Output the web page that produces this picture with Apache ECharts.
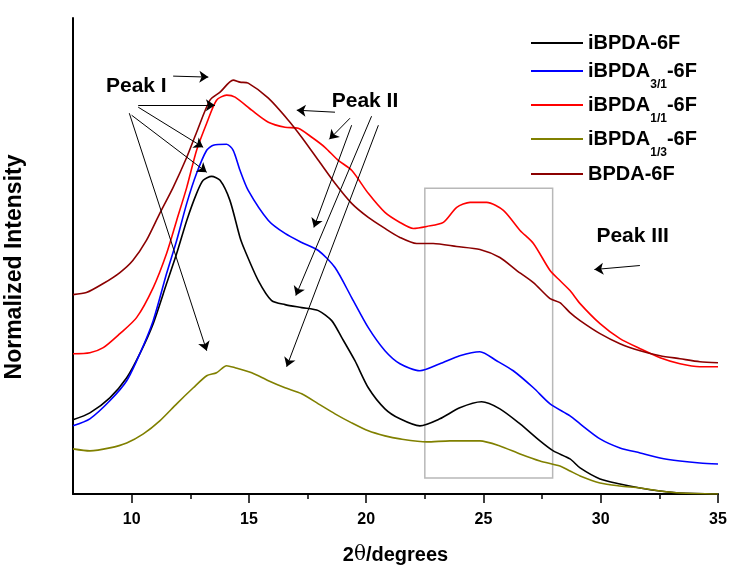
<!DOCTYPE html>
<html>
<head>
<meta charset="utf-8">
<script src="https://cdn.jsdelivr.net/npm/echarts@6/dist/echarts.min.js"></script>
<style>
  html, body { margin: 0; padding: 0; background: #ffffff; }
  #chart { width: 729px; height: 567px; }
</style>
</head>
<body>
<div id="chart"></div>
<script>
// ---- series names (legend text: base + subscript + suffix) ----
const seriesNames = ['iBPDA-6F', 'iBPDA3/1-6F', 'iBPDA1/1-6F', 'iBPDA1/3-6F', 'BPDA-6F'];
const legendBase = ['iBPDA', 'iBPDA', 'iBPDA', 'iBPDA', 'BPDA'];
const legendSub = ['', '3/1', '1/1', '1/3', ''];

// ---- WAXD patterns: [2θ (degrees), normalized intensity (a.u.)] ----
const iBPDA_6F = [
  [7.5, 74], [8.22, 81], [9.07, 96], [9.79, 116], [10.35, 140], [10.92, 170],
  [11.49, 210], [11.92, 240], [12.35, 273], [12.77, 300], [13.05, 313], [13.41, 317],
  [13.77, 313], [14.19, 293], [14.62, 256], [14.83, 243], [15.4, 213], [15.97, 193],
  [16.54, 189], [17.25, 186], [17.96, 183], [18.53, 173], [18.96, 156], [19.52, 133],
  [20.09, 106], [20.8, 85], [21.44, 75], [22.29, 68], [23.14, 75], [23.99, 86],
  [24.92, 92], [25.7, 85], [26.56, 70], [27.41, 53], [27.98, 43], [28.69, 35],
  [29.12, 26], [29.97, 15], [30.82, 10], [31.68, 6], [32.53, 3], [33.38, 1], [35, 0]
];
const iBPDA31_6F = [
  [7.5, 68], [8.22, 75], [9.07, 93], [9.79, 113], [10.35, 140], [10.92, 173],
  [11.49, 220], [11.92, 253], [12.35, 290], [12.77, 320], [13.2, 343], [13.48, 348],
  [14.05, 349], [14.33, 343], [14.62, 323], [14.97, 303], [15.83, 273], [16.54, 260],
  [17.25, 251], [17.96, 243], [18.67, 226], [19.38, 196], [20.09, 166], [20.8, 143],
  [21.44, 130], [22.29, 123], [23.14, 130], [23.99, 138], [24.85, 142], [25.56, 133],
  [26.27, 123], [27.13, 106], [27.84, 90], [28.69, 78], [29.12, 70], [29.97, 55],
  [30.82, 46], [31.68, 41], [32.53, 36], [33.38, 33], [34.23, 31], [35, 30]
];
const iBPDA11_6F = [
  [7.5, 140], [8.22, 141], [8.79, 146], [9.5, 160], [10.21, 176], [10.92, 206],
  [11.49, 240], [11.92, 273], [12.35, 306], [12.77, 343], [13.2, 370], [13.62, 393],
  [14.05, 398], [14.41, 396], [15.12, 383], [15.83, 371], [16.54, 366], [17.1, 365],
  [17.68, 356], [18.24, 346], [18.81, 333], [19.38, 323], [20.09, 300], [20.8, 281],
  [21.44, 271], [22.01, 265], [22.58, 267], [23.29, 271], [23.86, 286], [24.43, 291],
  [25.14, 291], [25.85, 283], [26.56, 263], [27.13, 250], [27.84, 223], [28.26, 213],
  [28.69, 203], [29.12, 190], [29.97, 170], [30.82, 155], [31.68, 145], [32.53, 136],
  [33.38, 130], [34.23, 127], [35, 127]
];
const iBPDA13_6F = [
  [7.5, 45], [8.22, 43], [9.07, 46], [9.79, 51], [10.5, 60], [11.2, 73],
  [11.92, 90], [12.63, 106], [13.2, 118], [13.62, 121], [14.05, 128], [14.41, 126],
  [15.12, 121], [15.83, 113], [16.54, 106], [17.25, 100], [17.96, 90], [18.67, 80],
  [19.38, 71], [20.09, 63], [20.8, 58], [21.44, 55], [22.58, 52], [23.57, 53],
  [24.85, 53], [25.7, 48], [26.56, 40], [27.41, 33], [28.26, 28], [28.69, 23],
  [29.12, 18], [29.97, 11], [30.82, 8], [31.68, 6], [32.53, 3], [33.38, 1], [35, 0]
];
const BPDA_6F = [
  [7.5, 199], [8.07, 201], [8.79, 210], [9.5, 221], [10.05, 233], [10.63, 253],
  [11.2, 280], [11.77, 306], [12.35, 336], [12.77, 361], [13.34, 393], [13.77, 401],
  [14.33, 413], [14.62, 411], [14.97, 410], [15.83, 395], [16.68, 373], [17.25, 356],
  [17.96, 333], [18.67, 310], [19.38, 290], [20.09, 276], [20.8, 265], [21.44, 256],
  [22.15, 250], [22.86, 250], [23.86, 247], [24.85, 244], [25.7, 236], [26.42, 223],
  [27.13, 211], [27.84, 195], [28.26, 191], [28.69, 181], [29.12, 173], [29.97, 160],
  [30.82, 150], [31.68, 143], [32.53, 138], [33.38, 135], [34.23, 132], [35, 131]
];
const seriesData = [iBPDA_6F, iBPDA31_6F, iBPDA11_6F, iBPDA13_6F, BPDA_6F];
const seriesColors = ['#000000', '#0000ff', '#ff0000', '#808000', '#8b0000'];

// ---- axis ticks ----
const majorTicks = [10, 15, 20, 25, 30, 35];
const minorTicks = [12.5, 17.5, 22.5, 27.5, 32.5];

// ---- peak annotations (data coordinates) ----
const peakLabels = ['Peak I', 'Peak II', 'Peak III'];
const peakLabelAt = [[10.2, 407], [19.95, 392], [31.36, 257]];
const peakArrows = [
  // Peak I
  [[11.77, 417], [13.27, 416]],
  [[10.28, 388], [13.55, 388]],
  [[10.28, 386], [13.05, 346]],
  [[10.0, 378], [13.2, 321]],
  [[9.9, 380], [13.2, 143]],
  // Peak II
  [[18.67, 381], [17.04, 383]],
  [[19.31, 375], [18.43, 354]],
  [[19.38, 368], [17.77, 266]],
  [[20.23, 377], [17.0, 198]],
  [[20.52, 368], [16.61, 127]],
  // Peak III
  [[31.67, 228], [29.73, 224]]
];
const peakIIIBox = [[22.5, 16], [27.95, 305]];

const FONT = '"Liberation Sans", Arial, sans-serif';

const lineSeries = seriesNames.map((name, i) => ({
  name: name,
  type: 'line',
  data: seriesData[i],
  symbol: 'none',
  smooth: 0.25,
  lineStyle: { color: seriesColors[i], width: 1.6 },
  itemStyle: { color: seriesColors[i] },
  emphasis: { disabled: true },
  z: 3
}));

const annotationSeries = {
  name: 'annotations',
  type: 'scatter',
  data: peakLabels.map((t, i) => ({ name: t, value: peakLabelAt[i] })),
  symbolSize: 0,
  silent: true,
  z: 5,
  itemStyle: { opacity: 1 },
  label: {
    show: true,
    position: 'inside',
    formatter: '{b}',
    color: '#000',
    fontFamily: FONT,
    fontWeight: 'bold',
    fontSize: 21
  },
  markLine: {
    silent: true,
    animation: false,
    symbol: ['none', 'arrow'],
    symbolSize: 9,
    label: { show: false },
    lineStyle: { color: '#000', width: 1, type: 'solid', opacity: 1 },
    emphasis: { disabled: true },
    data: peakArrows.map(([a, b]) => [{ coord: a }, { coord: b }])
  },
  markArea: {
    silent: true,
    label: { show: false },
    itemStyle: { color: 'rgba(0,0,0,0)', borderColor: '#b8b8b8', borderWidth: 1.5 },
    emphasis: { disabled: true },
    data: [[{ coord: peakIIIBox[0] }, { coord: peakIIIBox[1] }]]
  }
};

// one legend block per series so every row can sit at its own height
const legendRowCenters = [42, 70, 104, 138, 173];
const legendRich = {
  m: { fontFamily: FONT, fontWeight: 'bold', fontSize: 20, color: '#000', lineHeight: 40 },
  s: { fontFamily: FONT, fontWeight: 'bold', fontSize: 12, color: '#000', verticalAlign: 'bottom' }
};
const legends = seriesNames.map((name, i) => ({
  data: [{ name: name, icon: 'rect' }],
  orient: 'vertical',
  left: 531,
  top: legendRowCenters[i] - 9,
  itemWidth: 52,
  itemHeight: 2,
  selectedMode: false,
  padding: 0,
  formatter: function () {
    if (!legendSub[i]) return '{m|' + name + '}';
    return '{m|' + legendBase[i] + '}{s|' + legendSub[i] + '}{m|-6F}';
  },
  textStyle: { color: '#000', fontFamily: FONT, fontWeight: 'bold', fontSize: 20, rich: legendRich }
}));

const chart = echarts.init(document.getElementById('chart'), null, { renderer: 'canvas' });
chart.setOption({
  animation: false,
  backgroundColor: '#ffffff',
  grid: { left: 73, right: 11, top: 18, bottom: 73, containLabel: false, outerBoundsMode: 'none' },
  legend: legends,
  xAxis: [
    {
      type: 'value',
      min: 7.5,
      max: 35,
      interval: 2.5,
      name: '{a|2}{t|θ}{a|/degrees}',
      nameLocation: 'middle',
      nameGap: 51,
      nameTextStyle: {
        rich: {
          a: { fontFamily: FONT, fontWeight: 'bold', fontSize: 20, color: '#000' },
          t: { fontFamily: '"DejaVu Serif", serif', fontWeight: 'normal', fontSize: 20, color: '#000' }
        }
      },
      axisLine: { show: true, onZero: false, lineStyle: { color: '#000', width: 2 } },
      axisTick: { show: true, customValues: majorTicks, length: 9, lineStyle: { color: '#000', width: 1.5 } },
      axisLabel: {
        show: true,
        customValues: majorTicks,
        margin: 18,
        color: '#000',
        fontFamily: FONT,
        fontWeight: 'bold',
        fontSize: 16
      },
      splitLine: { show: false }
    },
    {
      type: 'value',
      min: 7.5,
      max: 35,
      interval: 2.5,
      position: 'bottom',
      axisLine: { show: false },
      axisTick: { show: true, customValues: minorTicks, length: 5, lineStyle: { color: '#000', width: 1.5 } },
      axisLabel: { show: false },
      splitLine: { show: false }
    }
  ],
  yAxis: {
    type: 'value',
    min: 0,
    max: 475,
    name: 'Normalized Intensity',
    nameLocation: 'middle',
    nameRotate: 90,
    nameGap: 47,
    nameTextStyle: { fontFamily: FONT, fontWeight: 'bold', fontSize: 23, color: '#000', padding: [0, 22, 0, 0] },
    axisLine: { show: true, lineStyle: { color: '#000', width: 2 } },
    axisTick: { show: false },
    axisLabel: { show: false },
    splitLine: { show: false }
  },
  series: lineSeries.concat([annotationSeries])
});
</script>
</body>
</html>
